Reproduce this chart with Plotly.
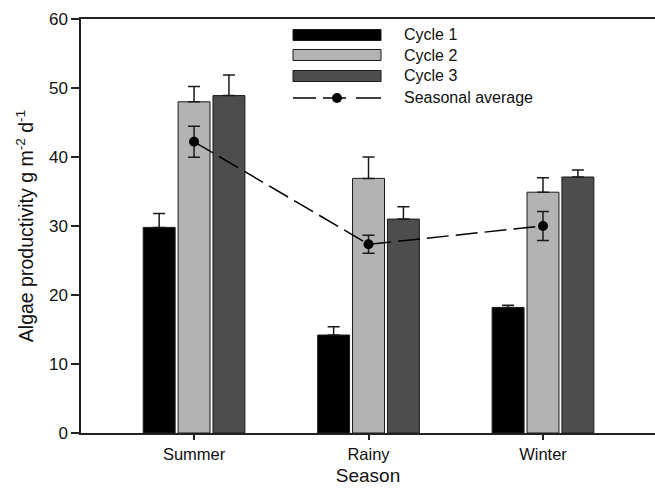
import plotly.graph_objects as go

seasons = ["Summer", "Rainy", "Winter"]
cycle1 = [29.8, 14.2, 18.2]
cycle1_err = [2.0, 1.2, 0.3]
cycle2 = [48.0, 36.9, 34.9]
cycle2_err = [2.2, 3.1, 2.1]
cycle3 = [48.9, 31.0, 37.1]
cycle3_err = [3.0, 1.8, 1.0]
avg = [42.2, 27.35, 30.0]
avg_err = [2.25, 1.3, 2.1]

series_names = ["Cycle 1", "Cycle 2", "Cycle 3"]
series_vals = [cycle1, cycle2, cycle3]
series_errs = [cycle1_err, cycle2_err, cycle3_err]
series_colors = ["#000000", "#b3b3b3", "#4d4d4d"]
offsets = [-0.2, 0.0, 0.2]

idx = list(range(len(seasons)))
fig = go.Figure()
for name, vals, errs, col, off in zip(series_names, series_vals, series_errs, series_colors, offsets):
    fig.add_trace(go.Bar(
        x=[i + off for i in idx], y=vals, width=0.183, name=name,
        marker=dict(color=col, line=dict(color="#1a1a1a", width=1)),
        error_y=dict(type="data", symmetric=False, array=errs, arrayminus=[0] * len(errs),
                     color="#1a1a1a", thickness=1.5, width=6),
        showlegend=False,
    ))

fig.add_trace(go.Scatter(
    x=idx, y=avg, mode="lines+markers", name="Seasonal average",
    line=dict(color="#000000", width=1.5, dash="22px,7px"),
    marker=dict(color="#000000", size=10, symbol="circle"),
    error_y=dict(type="data", array=avg_err, color="#1a1a1a", thickness=1.5, width=6),
    showlegend=False,
))

# manual legend (SigmaPlot style)
L, R, T, B = 81, 655, 19, 433
def px(xp):
    return (xp - L) / (R - L)
def py(yp):
    return (B - yp) / (B - T)

rows_y = [35, 55, 76, 98]
for ry, col in zip(rows_y[:3], series_colors):
    fig.add_shape(type="rect", xref="paper", yref="paper",
                  x0=px(293), x1=px(381), y0=py(ry + 5.5), y1=py(ry - 5.5),
                  fillcolor=col, line=dict(color="#1a1a1a", width=1))
ry = rows_y[3]
for a, b in [(293, 316), (323, 346), (356, 381)]:
    fig.add_shape(type="line", xref="paper", yref="paper",
                  x0=px(a), x1=px(b), y0=py(ry), y1=py(ry),
                  line=dict(color="#000000", width=1.5))
fig.add_shape(type="circle", xref="paper", yref="paper",
              x0=px(332), x1=px(342), y0=py(ry + 5), y1=py(ry - 5),
              fillcolor="#000000", line=dict(color="#000000", width=0))
for ry, name in zip(rows_y, series_names + ["Seasonal average"]):
    fig.add_annotation(xref="paper", yref="paper", x=px(402), y=py(ry),
                       text=name, showarrow=False, xanchor="left", yanchor="middle",
                       font=dict(size=16, color="#111111"))

fig.update_layout(
    width=655, height=488,
    margin=dict(l=L, r=0, t=T, b=488 - B),
    paper_bgcolor="white", plot_bgcolor="white",
    font=dict(family="Liberation Sans, Arial, sans-serif", color="#111111"),
    barmode="overlay",
    showlegend=False,
)
fig.update_xaxes(
    range=[-0.648, 2.642], tickvals=idx, ticktext=seasons,
    showline=True, linecolor="#222222", linewidth=1.5, mirror=True,
    ticks="outside", ticklen=5, tickwidth=1.5, tickcolor="#222222",
    showgrid=False, zeroline=False, tickfont=dict(size=16.5),
    title=dict(text="Season", font=dict(size=19), standoff=7),
)
fig.update_yaxes(
    range=[0, 60], tickvals=[0, 10, 20, 30, 40, 50, 60],
    showline=True, linecolor="#222222", linewidth=1.5,
    ticks="outside", ticklen=8, tickwidth=1.5, tickcolor="#222222",
    showgrid=False, zeroline=False, tickfont=dict(size=17),
    title=dict(text="Algae productivity g m<sup>-2</sup> d<sup>-1</sup>", font=dict(size=19.5), standoff=10),
)

fig.write_html(
    "out.html",
    config={"displayModeBar": False},
    post_script="document.body.style.margin='0';document.body.style.overflow='hidden';",
)
